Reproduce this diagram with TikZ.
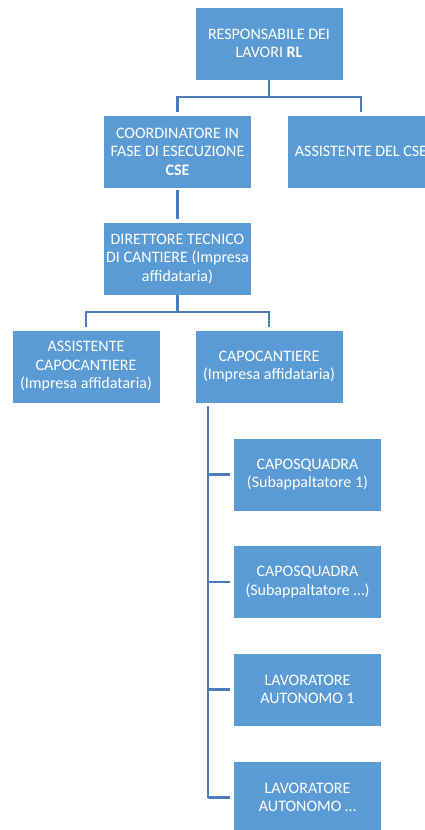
\documentclass[tikz,border=0pt]{standalone}
\usepackage{fontspec}
\setmainfont{Carlito}
\definecolor{boxblue}{HTML}{5B9BD5}
\definecolor{lineblue}{HTML}{4A7EBB}
\tikzset{
  orgbox/.style={draw=white, line width=0.6pt, fill=boxblue, text=white,
    minimum width=148pt, minimum height=73pt, inner sep=0pt, align=center,
    font=\fontsize{16}{18.5}\selectfont},
  conn/.style={draw=lineblue, line width=2.8pt},
}
\begin{document}
\begin{tikzpicture}[x=1pt,y=-1pt]
\useasboundingbox (0,0) rectangle (425,830);
\clip (0,0) rectangle (425,830);
\node[orgbox] (rl) at (269,43.5) {RESPONSABILE DEI\\LAVORI \textbf{RL}};
\node[orgbox] (cse) at (177.5,151.5) {COORDINATORE IN\\FASE DI ESECUZIONE\\\textbf{CSE}};
\node[orgbox] (acse) at (361,151.5) {ASSISTENTE DEL CSE};
\node[orgbox] (dt) at (177.5,258.5) {DIRETTORE TECNICO\\DI CANTIERE (Impresa\\affidataria)};
\node[orgbox] (acc) at (86,366.5) {ASSISTENTE\\CAPOCANTIERE\\(Impresa affidataria)};
\node[orgbox] (cc) at (269,366.5) {CAPOCANTIERE\\(Impresa affidataria)};
\node[orgbox] (cq1) at (307.5,474.5) {CAPOSQUADRA\\(Subappaltatore 1)};
\node[orgbox] (cq2) at (307.5,582) {CAPOSQUADRA\\(Subappaltatore \dots)};
\node[orgbox] (la1) at (307.5,689.5) {LAVORATORE\\AUTONOMO 1};
\node[orgbox] (la2) at (307.5,797.5) {LAVORATORE\\AUTONOMO \dots};
\coordinate (j1) at (269,97);
\coordinate (j2) at (177.5,312);
\coordinate (sp) at (208,797.5);
\draw[conn] (rl.south) -- (j1);
\draw[conn, shorten >=3pt] (j1) -| (cse.north);
\draw[conn, shorten >=3pt] (j1) -| (acse.north);
\draw[conn, shorten <=2pt, shorten >=3pt] (cse.south) -- (dt.north);
\draw[conn] (dt.south) -- (j2);
\draw[conn, shorten >=3pt] (j2) -| (acc.north);
\draw[conn, shorten >=3pt] (j2) -| (cc.north);
\draw[conn, shorten <=3pt] (cc.south -| sp) -- (sp);
\draw[conn, shorten >=3pt] (sp) -- (la2.west);
\draw[conn, shorten >=3pt] (cq1.west -| sp) -- (cq1.west);
\draw[conn, shorten >=3pt] (cq2.west -| sp) -- (cq2.west);
\draw[conn, shorten >=3pt] (la1.west -| sp) -- (la1.west);
\end{tikzpicture}
\end{document}
